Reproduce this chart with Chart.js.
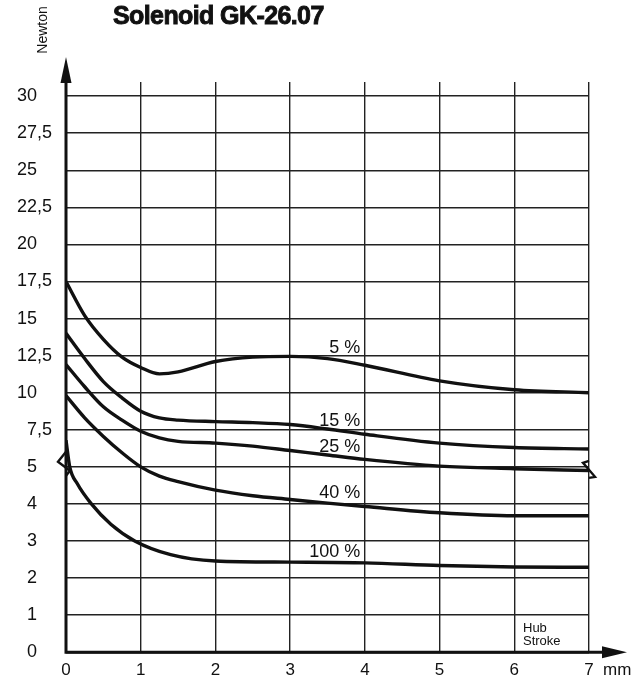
<!DOCTYPE html>
<html>
<head>
<meta charset="utf-8">
<script src="https://cdn.jsdelivr.net/npm/chart.js@4/dist/chart.umd.min.js"></script>
<style>
  html, body { margin: 0; padding: 0; background: #fff; }
  #wrap { width: 642px; height: 677px; }
</style>
</head>
<body>
<div id="wrap"><canvas id="grafica" width="642" height="677"></canvas></div>
<script>
// Hub (stroke) in mm
const hub    = [0, 0.25, 0.5, 0.75, 1, 1.25, 1.5, 2, 2.5, 3, 3.5, 4, 5, 6, 7];
const hub100 = [0, 0.05, 0.15, 0.34, 0.6, 0.92, 1.4, 2, 3, 4, 5, 6, 7];

// force in Newton per duty cycle
const fuerza5   = [17.5, 15.2, 13.6, 12.4, 11.7, 11.27, 11.4, 12.1, 12.4, 12.45, 12.3, 11.85, 10.8, 10.2, 10.0];
const fuerza15  = [14.0, 12.3, 10.75, 9.65, 8.75, 8.3, 8.15, 8.05, 7.98, 7.85, 7.55, 7.2, 6.6, 6.3, 6.2];
const fuerza25  = [11.9, 10.4, 9.05, 8.15, 7.4, 6.95, 6.72, 6.6, 6.4, 6.1, 5.8, 5.5, 5.05, 4.95, 4.9];
const fuerza40  = [9.8, 8.3, 7.05, 5.95, 5.0, 4.75, 4.6, 4.37, 4.22, 4.12, 4.02, 3.93, 3.76, 3.68, 3.68];
const fuerza100 = [6.8, 5.0, 4.55, 4.0, 3.45, 3.0, 2.63, 2.46, 2.43, 2.41, 2.34, 2.3, 2.29];

const etiquetasCurva = ['5 %', '15 %', '25 %', '40 %', '100 %'];

// y axis is broken at 5 N: 0..5 step 1, then 5..30 step 2.5
const ticksY = [0, 1, 2, 3, 4, 5, 7.5, 10, 12.5, 15, 17.5, 20, 22.5, 25, 27.5, 30];
const ticksX = [0, 1, 2, 3, 4, 5, 6, 7];

function aPos(v) {
    return v <= 5 ? v : 5 + (v - 5) / 2.5;
}
function dePos(p) {
    return p <= 5 ? p : 5 + (p - 5) * 2.5;
}

const tinta = '#111';
const fuente = "'Liberation Sans', Arial, Helvetica, sans-serif";

function serie(xs, valores) {
    return {
        data: xs.map((x, i) => ({ x: x, y: aPos(valores[i]) })),
        borderColor: tinta,
        borderWidth: 3.4,
        pointRadius: 0,
        fill: false,
        cubicInterpolationMode: 'monotone'
    };
}

const decoracion = {
    id: 'decoracion',
    afterDraw(chart) {
        const ctx = chart.ctx;
        const xs = chart.scales.x;
        const ys = chart.scales.y;
        const x0 = xs.getPixelForValue(0);
        const x7 = xs.getPixelForValue(7);
        const y0 = ys.getPixelForValue(0);
        const y5 = ys.getPixelForValue(5);
        ctx.save();
        ctx.strokeStyle = tinta;
        ctx.fillStyle = tinta;
        ctx.lineCap = 'butt';

        // axes
        ctx.lineWidth = 3;
        ctx.beginPath();
        ctx.moveTo(x0, y0 + 1.5);
        ctx.lineTo(x0, 80);
        ctx.moveTo(x0 - 1.5, y0);
        ctx.lineTo(605, y0);
        ctx.stroke();
        ctx.beginPath();
        ctx.moveTo(x0, 57);
        ctx.lineTo(x0 - 5.5, 83);
        ctx.lineTo(x0 + 5.5, 83);
        ctx.closePath();
        ctx.fill();
        ctx.beginPath();
        ctx.moveTo(627, y0);
        ctx.lineTo(602, y0 - 6);
        ctx.lineTo(602, y0 + 6);
        ctx.closePath();
        ctx.fill();

        // break marks
        ctx.lineWidth = 2.4;
        ctx.beginPath();
        ctx.moveTo(x0, y5 - 15);
        ctx.lineTo(x0 - 8, y5 - 5);
        ctx.lineTo(x0 + 4, y5 + 4);
        ctx.lineTo(x0, y5 + 9);
        ctx.stroke();
        ctx.beginPath();
        ctx.moveTo(x7, y5 - 6);
        ctx.lineTo(x7 - 6, y5 - 4);
        ctx.lineTo(x7 + 6, y5 + 10);
        ctx.lineTo(x7, y5 + 11);
        ctx.stroke();

        // title
        ctx.font = "bold 25px " + fuente;
        ctx.letterSpacing = '-0.6px';
        ctx.textAlign = 'left';
        ctx.textBaseline = 'alphabetic';
        ctx.lineWidth = 0.9;
        ctx.fillText('Solenoid GK-26.07', 113, 24);
        ctx.strokeText('Solenoid GK-26.07', 113, 24);
        ctx.letterSpacing = '0px';

        // y title
        ctx.save();
        ctx.translate(47, 30);
        ctx.rotate(-Math.PI / 2);
        ctx.font = "14px " + fuente;
        ctx.textAlign = 'center';
        ctx.fillText('Newton', 0, 0);
        ctx.restore();

        // curve labels
        ctx.font = "18px " + fuente;
        ctx.textAlign = 'right';
        const lx = xs.getPixelForValue(3.94);
        const base = [12.67, 7.76, 6.0, 4.17, 2.56];
        etiquetasCurva.forEach((t, i) => {
            ctx.fillText(t, lx, ys.getPixelForValue(aPos(base[i])));
        });

        // axis notes
        ctx.textAlign = 'left';
        ctx.font = "17px " + fuente;
        ctx.fillText('mm', 603, 675);
        ctx.font = "13px " + fuente;
        ctx.fillText('Hub', 523, 632);
        ctx.fillText('Stroke', 523, 645);
        ctx.restore();
    }
};

new Chart(document.getElementById('grafica').getContext('2d'), {
    type: 'line',
    data: {
        datasets: [
            serie(hub, fuerza5),
            serie(hub, fuerza15),
            serie(hub, fuerza25),
            serie(hub, fuerza40),
            serie(hub100, fuerza100)
        ]
    },
    options: {
        responsive: false,
        animation: false,
        events: [],
        layout: { padding: { top: 82, right: 53, left: 0, bottom: 0 } },
        plugins: {
            legend: { display: false },
            title: { display: false },
            tooltip: { enabled: false }
        },
        scales: {
            x: {
                type: 'linear',
                min: 0,
                max: 7,
                afterFit: s => { s.height = 24; },
                afterBuildTicks: s => { s.ticks = ticksX.map(v => ({ value: v })); },
                border: { display: false },
                grid: { color: '#222', lineWidth: 1.4, drawTicks: false },
                ticks: {
                    padding: 8,
                    color: tinta,
                    font: { family: fuente, size: 17 },
                    maxRotation: 0,
                    callback: v => String(v)
                }
            },
            y: {
                type: 'linear',
                min: 0,
                max: 15.38,
                afterFit: s => { s.width = 66; },
                afterBuildTicks: s => { s.ticks = ticksY.map(v => ({ value: aPos(v) })); },
                border: { display: false },
                grid: { color: '#222', lineWidth: 1.4, drawTicks: false },
                ticks: {
                    padding: 14,
                    color: tinta,
                    font: { family: fuente, size: 18 },
                    callback: v => {
                        const n = dePos(v);
                        return Number.isInteger(n) ? String(n) + '\u2008\u2007' : String(n).replace('.', ',');
                    }
                }
            }
        }
    },
    plugins: [decoracion]
});
</script>
</body>
</html>
